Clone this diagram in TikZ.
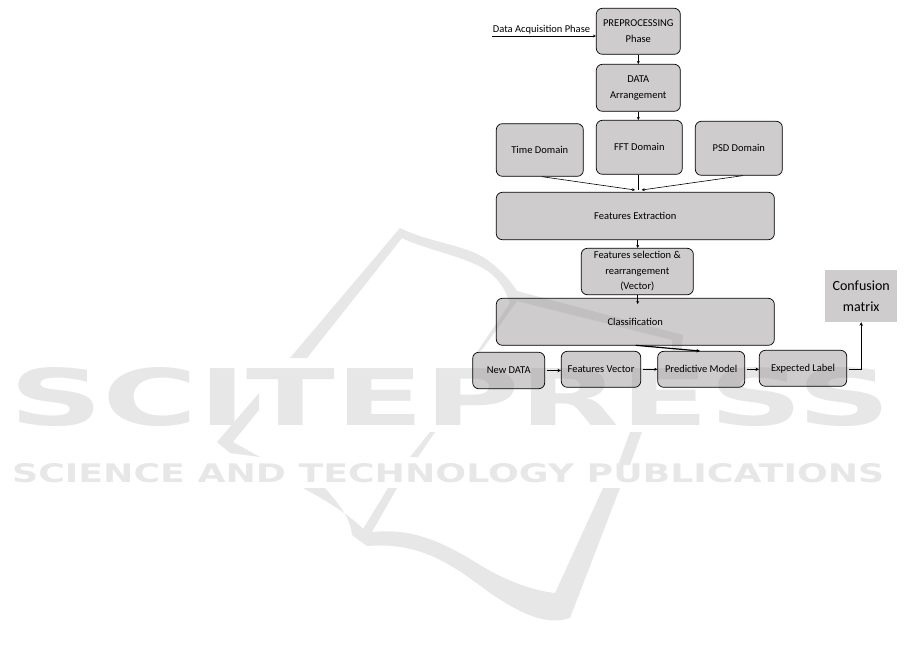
\documentclass[tikz,border=0pt]{standalone}
\usepackage{amsmath,amssymb,amsfonts}
\usepackage{xcolor}
\usepackage{fontspec}
\setmainfont{Carlito}
\newfontfamily\markfont{DejaVu Sans}
\usetikzlibrary{arrows.meta}
\definecolor{boxgrey}{HTML}{9D9999}
\definecolor{markgrey}{HTML}{E6E7E6}
\tikzset{
  block/.style={draw=black, line width=0.7pt, rounded corners=6pt, fill=boxgrey, fill opacity=0.5, text opacity=1, inner sep=0pt, align=center, font=\fontsize{10.5}{15.5}\selectfont},
  plainbox/.style={fill=boxgrey, fill opacity=0.5, text opacity=1, inner sep=0pt, align=center, font=\fontsize{14}{21}\selectfont},
  link/.style={draw=black, line width=0.6pt, -{Stealth[length=3pt,width=3pt]}},
  heavylink/.style={draw=black, line width=1.2pt, -{Stealth[length=3.5pt,width=3.5pt]}},
  markshape/.style={fill=markgrey, draw=none}
}
\begin{document}
\begin{tikzpicture}[x=1pt,y=-1pt]
\useasboundingbox (0,0) rectangle (909,656);
% watermark
\node [text=markgrey, inner sep=0pt, anchor=north west] (markname) at (9,367) {\resizebox{881pt}{58pt}{\markfont\bfseries SCITEPRESS}};
\node [text=markgrey, inner sep=0pt, anchor=north west] (markline) at (12,463) {\resizebox{872pt}{19pt}{\markfont\bfseries SCIENCE AND TECHNOLOGY PUBLICATIONS}};
\fill [markshape] (400,228) .. controls (433,244) and (470,245) .. (490,262) .. controls (503,272) and (512,283) .. (517,291) -- (683,335) -- (682,350) -- (672,350) -- (672,340) -- (517,301) -- (482,350) -- (477,352) -- (510,303) .. controls (502,280) and (490,270) .. (470,262) .. controls (445,252) and (420,247) .. (402,238) -- (307,358) -- (290,358) -- cycle;
\fill [markshape] (259,393) -- (217,442) -- (230,453) -- (260,457) -- (233,442) -- (259,410) -- cycle;
\fill [markshape] (445,410) -- (437,410) -- (437,422) -- cycle;
\fill [markshape] (430,432) -- (410,457) -- (418,457) -- (435,432) -- cycle;
\fill [markshape] (630,432) -- (642,432) -- (630,465) -- (618,465) -- cycle;
\fill [markshape] (303,488) .. controls (325,500) and (350,515) .. (363,529) -- (388,488) -- (397,488) -- (372,532) .. controls (410,528) and (440,540) .. (480,565) .. controls (505,580) and (530,590) .. (555,593) -- (603,488) -- (620,488) -- (570,618) .. controls (550,624) and (530,620) .. (490,593) .. controls (450,563) and (420,542) .. (367,546) -- (352,535) .. controls (350,515) and (335,500) .. (325,488) -- cycle;
% boxes
\node [block, minimum width=84pt, minimum height=46pt] (preproc) at (638.3,31.3) {PREPROCESSING\\Phase};
\node [block, minimum width=84pt, minimum height=47pt] (arrange) at (638.3,87.8) {DATA\\Arrangement};
\node [block, minimum width=87pt, minimum height=52.6pt] (timedom) at (539.8,150) {Time Domain};
\node [block, minimum width=86pt, minimum height=54pt] (fftdom) at (639.3,147.3) {FFT Domain};
\node [block, minimum width=87pt, minimum height=54pt] (psddom) at (738.8,148.3) {PSD Domain};
\node [block, minimum width=278pt, minimum height=47.4pt] (extract) at (635.3,216) {Features Extraction};
\node [block, minimum width=112pt, minimum height=46.4pt] (select) at (637.3,271.5) {Features selection \&\\rearrangement\\(Vector)};
\node [block, minimum width=278pt, minimum height=47pt] (classify) at (635.3,321.8) {Classification};
\node [block, minimum width=72pt, minimum height=36.4pt] (newdata) at (508.7,370.5) {New DATA};
\node [block, minimum width=79.4pt, minimum height=36pt] (vector) at (601,369.3) {Features Vector};
\node [block, minimum width=87pt, minimum height=36pt] (model) at (701.2,369.3) {Predictive Model};
\node [block, minimum width=87.4pt, minimum height=36pt] (label) at (803,368.3) {Expected Label};
\node [plainbox, minimum width=72.3pt, minimum height=52pt] (confusion) at (861.2,296) {Confusion\\matrix};
\node [inner sep=0pt, font=\fontsize{10.5}{12}\selectfont] (acquire) at (541.5,30) {Data Acquisition Phase};
% connector ends
\coordinate (acqstart) at (492.3,36);
\coordinate (timeend) at (635,190);
\coordinate (fftend) at (638.3,190);
\coordinate (psdend) at (641.7,190);
\coordinate (classend) at (637.7,304);
\coordinate (modelstart) at (635.7,345.3);
\coordinate (modelend) at (700,351);
% connectors
\draw [link] (acqstart) -- (preproc.west |- acqstart);
\draw [link] (preproc.south) -- (arrange.north);
\draw [link] (arrange.south) -- (arrange.south |- fftdom.north);
\draw [link] (timedom.south) ++(2,0) -- (timeend);
\draw [draw=black, line width=0.4pt] (fftdom.south -| fftend) -- (fftend);
\draw [link] (psddom.south) ++(4,0) -- (psdend);
\draw [link] (extract.south -| classend) -- (select.north -| classend);
\draw [link] (select.south -| classend) -- (classend);
\draw [heavylink] (modelstart) -- (modelend);
\draw [heavylink] (newdata.east) ++(1.5,0) -- (vector.west |- newdata.east);
\draw [link] (vector.east) ++(1.5,0) -- (model.west);
\draw [heavylink] (model.east) ++(1.5,0) -- (label.west |- model.east);
\draw [draw=black, line width=0.9pt, -{Stealth[length=3.5pt,width=3.5pt]}] (label.east) ++(1.5,0.7) -| (confusion.south);
\end{tikzpicture}
\end{document}
